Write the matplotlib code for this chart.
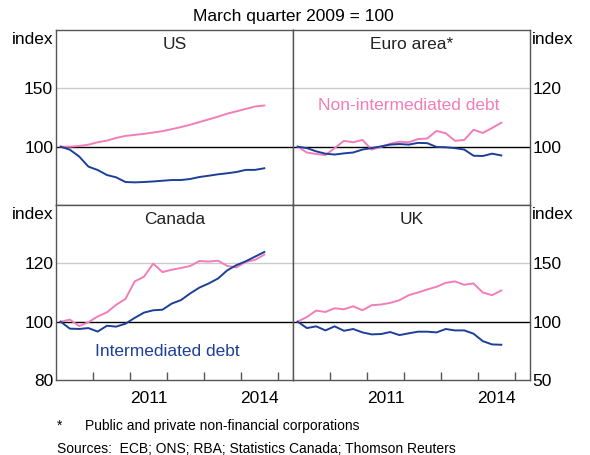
import matplotlib
matplotlib.use("Agg")
import matplotlib.pyplot as plt

plt.rcParams['font.family'] = ['Liberation Sans', 'DejaVu Sans']

# quarterly, March quarter 2009 to September quarter 2014
quarters = [2009.125 + 0.25 * i for i in range(23)]

us_non_int = [100, 100, 100.6, 101.7, 103.8, 105.2, 107.5, 109.2, 110.1, 111, 112.1, 113.3,
              115, 116.8, 118.8, 121.1, 123.4, 125.7, 128.3, 130.3, 132.4, 134.4, 135.3]
us_int = [100, 97.4, 91.6, 82.9, 80, 75.7, 73.7, 69.7, 69.4, 69.7, 70.2, 70.8,
          71.4, 71.4, 72.3, 74, 75.1, 76.3, 77.2, 78.3, 80.1, 80.1, 81.5]

euro_non_int = [100, 98.0, 97.5, 97.1, 99.5, 102.0, 101.5, 102.3, 99.0, 99.9, 101.0, 101.7,
                101.5, 102.6, 102.8, 105.4, 104.6, 102.0, 102.3, 105.8, 104.7, 106.4, 108.2]
euro_int = [100, 99.5, 98.4, 97.6, 97.3, 97.7, 98.0, 99.0, 99.5, 100.1, 100.7, 100.9,
            100.7, 101.3, 101.2, 99.9, 99.8, 99.5, 99.0, 96.9, 96.8, 97.6, 97.0]

canada_non_int = [100, 100.7, 98.5, 99.8, 101.8, 103.2, 105.8, 107.8, 113.8, 115.4, 119.9, 117.0,
                  117.8, 118.4, 119.1, 120.8, 120.6, 120.9, 119.1, 118.6, 120.5, 121.2, 123.0]
canada_int = [100, 97.6, 97.5, 97.8, 96.6, 98.6, 98.3, 99.3, 101.3, 103.1, 103.9, 104.1,
              106.2, 107.4, 109.7, 111.7, 113.1, 114.8, 117.6, 119.4, 120.7, 122.3, 123.9]

uk_non_int = [100, 104.0, 109.5, 108.3, 111.5, 110.6, 113.2, 109.8, 114.1, 114.7, 116.1, 118.4,
              122.7, 125.0, 127.6, 129.9, 133.3, 134.5, 131.6, 132.8, 125.0, 122.7, 126.7]
uk_int = [100, 94.5, 96.0, 92.5, 96.0, 92.2, 93.7, 90.8, 89.1, 89.4, 91.1, 88.5,
          90.0, 91.4, 91.4, 90.8, 93.7, 92.5, 92.5, 89.7, 83.3, 80.5, 80.2]

year_labels = ['2011', '2014']

PINK = '#F27DB8'
BLUE = '#1C3F99'
FRAME = '#555555'
FS = 12.5

fig = plt.figure(figsize=(5.9, 4.55), dpi=100)

x0, xm, x1 = 56 / 590, 293 / 590, 530 / 590
y_top, y_mid, y_bot = 1 - 30 / 455, 1 - 205 / 455, 1 - 380 / 455
w = xm - x0
h = y_top - y_mid

panels = [
    # name, position, series, ylim, yticks, side
    ('US', [x0, y_mid, w, h], us_non_int, us_int, (50, 200), [100, 150], 'left', False),
    ('Euro area*', [xm, y_mid, w, h], euro_non_int, euro_int, (80, 140), [100, 120], 'right', False),
    ('Canada', [x0, y_bot, w, h], canada_non_int, canada_int, (80, 140), [80, 100, 120], 'left', True),
    ('UK', [xm, y_bot, w, h], uk_non_int, uk_int, (50, 200), [50, 100, 150], 'right', True),
]

for name, pos, non_int, interm, ylim, yticks, side, bottom in panels:
    ax = fig.add_axes(pos)
    ax.set_xlim(2009.0, 2015.4)
    ax.set_ylim(*ylim)

    for t in yticks:
        if t != 100 and t != ylim[0]:
            ax.axhline(t, color='#CCCCCC', lw=1, zorder=1)
    ax.axhline(100, color='black', lw=1, zorder=2)

    ax.plot(quarters, non_int, color=PINK, lw=1.4, zorder=3)
    ax.plot(quarters, interm, color=BLUE, lw=1.4, zorder=3)

    ax.set_yticks(yticks)
    ax.tick_params(axis='y', length=0, labelsize=FS, pad=2,
                   labelleft=(side == 'left'), labelright=(side == 'right'))

    if bottom:
        ax.set_xticks(range(2010, 2016))
        ax.set_xticklabels([])
        ax.set_xticks([2011.5, 2014.5], minor=True)
        ax.set_xticklabels(year_labels, minor=True)
        ax.tick_params(axis='x', which='major', direction='in', length=6,
                       color=FRAME, width=1)
        ax.tick_params(axis='x', which='minor', length=0, labelsize=FS, pad=8)
    else:
        ax.set_xticks([])

    for sp in ax.spines.values():
        sp.set_color(FRAME)
        sp.set_linewidth(1)

    ax.text(0.5, 0.96, name, transform=ax.transAxes, ha='center', va='top',
            fontsize=FS, color='#222222')

    if name == 'Euro area*':
        ax.text(0.49, 0.57, 'Non-intermediated debt', transform=ax.transAxes,
                ha='center', va='center', fontsize=FS, color=PINK)
    if name == 'Canada':
        ax.text(0.47, 0.16, 'Intermediated debt', transform=ax.transAxes,
                ha='center', va='center', fontsize=FS, color=BLUE)

# "index" unit labels
for yy in (y_top, y_mid):
    fig.text(x0 - 0.004, yy - 0.004, 'index', ha='right', va='top', fontsize=FS)
    fig.text(x1 + 0.004, yy - 0.004, 'index', ha='left', va='top', fontsize=FS)

fig.text((x0 + x1) / 2, 1 - 17 / 455, 'March quarter 2009 = 100', ha='center', va='center',
         fontsize=FS)

fig.text(57 / 590, 1 - 426 / 455, '*', ha='left', va='center', fontsize=10)
fig.text(85 / 590, 1 - 426 / 455, 'Public and private non-financial corporations',
         ha='left', va='center', fontsize=10)
fig.text(57 / 590, 1 - 449 / 455, 'Sources:  ECB; ONS; RBA; Statistics Canada; Thomson Reuters',
         ha='left', va='center', fontsize=10)

fig.savefig('out.png', dpi=100)
